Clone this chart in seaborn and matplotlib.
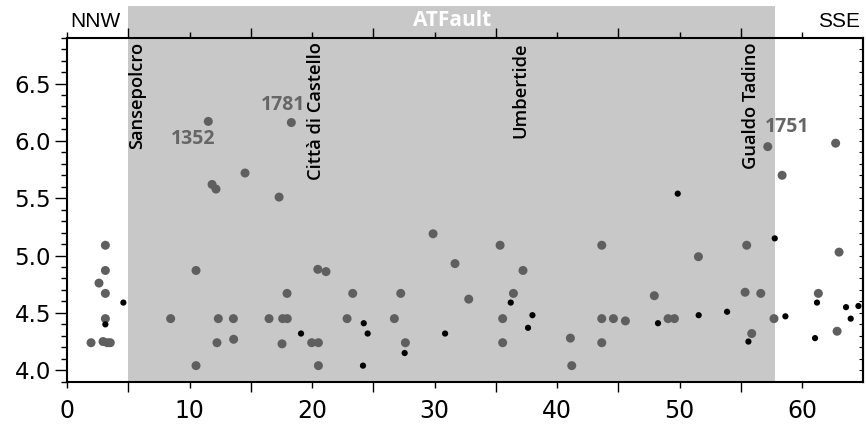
import matplotlib
matplotlib.use("Agg")
import matplotlib.pyplot as plt
import seaborn as sns
import numpy as np
import pandas as pd

# ---- data ----
gray_x = [1.96, 2.61, 3.13, 3.13, 3.13, 3.13, 2.94, 3.29, 3.53, 8.46, 10.53, 10.53,
          12.35, 12.24, 13.58, 13.6, 16.49, 17.6, 17.98, 17.96, 17.55, 11.53, 11.84,
          12.16, 14.53, 17.31, 18.31, 20.47, 21.14, 19.97, 20.52, 20.52, 23.32, 22.86,
          27.24, 26.72, 27.62, 29.88, 31.67, 32.79, 35.35, 37.22, 36.44, 35.56, 35.56,
          41.09, 41.2, 43.65, 43.65, 43.65, 44.6, 45.58, 47.94, 49.06, 49.58, 51.54,
          55.48, 55.35, 56.63, 55.89, 57.71, 61.33, 62.86, 63.02, 57.2, 62.74, 58.37]
gray_y = [4.24, 4.76, 5.09, 4.87, 4.67, 4.45, 4.25, 4.24, 4.24, 4.45, 4.87, 4.04,
          4.45, 4.24, 4.45, 4.27, 4.45, 4.45, 4.45, 4.67, 4.23, 6.17, 5.62,
          5.58, 5.72, 5.51, 6.16, 4.88, 4.86, 4.24, 4.24, 4.04, 4.67, 4.45,
          4.67, 4.45, 4.24, 5.19, 4.93, 4.62, 5.09, 4.87, 4.67, 4.45, 4.24,
          4.28, 4.04, 5.09, 4.45, 4.24, 4.45, 4.43, 4.65, 4.45, 4.45, 4.99,
          5.09, 4.68, 4.67, 4.32, 4.45, 4.67, 4.34, 5.03, 5.95, 5.98, 5.70]
black_x = [3.13, 4.6, 19.1, 24.22, 24.54, 24.16, 27.56, 30.86, 36.22, 37.99, 37.63,
           48.24, 51.56, 53.88, 57.77, 55.62, 58.64, 61.22, 61.06, 63.59, 64.6, 63.97, 49.85]
black_y = [4.40, 4.59, 4.32, 4.41, 4.32, 4.04, 4.15, 4.32, 4.59, 4.48, 4.37,
           4.41, 4.48, 4.51, 5.15, 4.25, 4.47, 4.59, 4.28, 4.55, 4.56, 4.45, 5.54]

towns = ["Sansepolcro", "Città di Castello", "Umbertide", "Gualdo Tadino"]
town_x = [5.69, 20.29, 37.02, 55.8]
years = ["1352", "1781", "1751"]
year_x = [10.31, 17.66, 58.78]
year_y = [6.013, 6.317, 6.124]
fault_name = "ATFault"
fault_start, fault_end = 4.95, 57.8
xticks = [0, 10, 20, 30, 40, 50, 60]
yticks = [4.0, 4.5, 5.0, 5.5, 6.0, 6.5]

sns.set_style("ticks")
plt.rcParams['font.family'] = ['DejaVu Sans']

fig = plt.figure(figsize=(8.66, 4.26), dpi=100)
ax = fig.add_axes([0.0774, 0.104, 0.9195, 0.8075])

gray_df = pd.DataFrame({"x": gray_x, "y": gray_y})
black_df = pd.DataFrame({"x": black_x, "y": black_y})
sns.scatterplot(data=gray_df, x="x", y="y", ax=ax, color="#5f5f5f", s=42,
                edgecolor="none", zorder=3)
sns.scatterplot(data=black_df, x="x", y="y", ax=ax, color="black", s=20,
                edgecolor="none", zorder=4)

ax.set_xlim(0, 65)
ax.set_ylim(3.9, 6.9)
ax.set_xlabel("")
ax.set_ylabel("")

# fault band
ax.axvspan(fault_start, fault_end, ymin=0, ymax=1.092, color="#c8c8c8",
           clip_on=False, zorder=0, lw=0)

for s in ax.spines.values():
    s.set_linewidth(1.5)
    s.set_color("black")

ax.set_xticks(xticks)
ax.set_xticks([5, 15, 25, 35, 45, 55], minor=True)
ax.set_yticks(yticks)
ax.set_yticklabels([f"{v:.1f}" for v in yticks])
ax.set_yticks(np.arange(3.9, 6.91, 0.1), minor=True)
ax.tick_params(axis="x", which="major", direction="out", length=4.5, width=1,
               top=True, bottom=True, labelsize=17, pad=8, color="black",
               labelcolor="black")
ax.tick_params(axis="x", which="minor", direction="out", length=7.5, width=1,
               top=True, bottom=True, color="black")
ax.tick_params(axis="y", which="major", direction="out", length=8.5, width=1,
               left=True, right=False, labelsize=16.5, pad=3, color="black",
               labelcolor="black")
ax.tick_params(axis="y", which="minor", direction="out", length=4, width=1,
               left=True, right=False, color="black")

sec = ax.secondary_yaxis("right")
sec.set_yticks(np.arange(3.9, 6.91, 0.1))
sec.set_yticklabels([])
sec.tick_params(direction="in", length=3, width=0.8, color="black")
sec.spines["right"].set_linewidth(1.5)
sec.spines["right"].set_color("black")

xt = ax.get_xaxis_transform()
ax.text(31.4, 1.051, fault_name, transform=xt, ha="center", va="center",
        color="white", fontsize=15, fontweight="bold", family="Open Sans")
ax.text(0.004, 1.02, "NNW", transform=ax.transAxes, ha="left", va="bottom",
        fontsize=15, color="black", family="Liberation Sans")
ax.text(0.9965, 1.02, "SSE", transform=ax.transAxes, ha="right", va="bottom",
        fontsize=15, color="black", family="Liberation Sans")

for name, tx in zip(towns, town_x):
    ax.text(tx, 0.9875, name, transform=xt, rotation=90, ha="center", va="top",
            fontsize=13.2, fontweight="semibold", family="Open Sans", color="black",
            zorder=5)

for name, tx, ty in zip(years, year_x, year_y):
    ax.text(tx, ty, name, ha="center", va="center", fontsize=14,
            fontweight="bold", family="Open Sans", color="#666666", zorder=5)

fig.savefig("out.png", dpi=100)
